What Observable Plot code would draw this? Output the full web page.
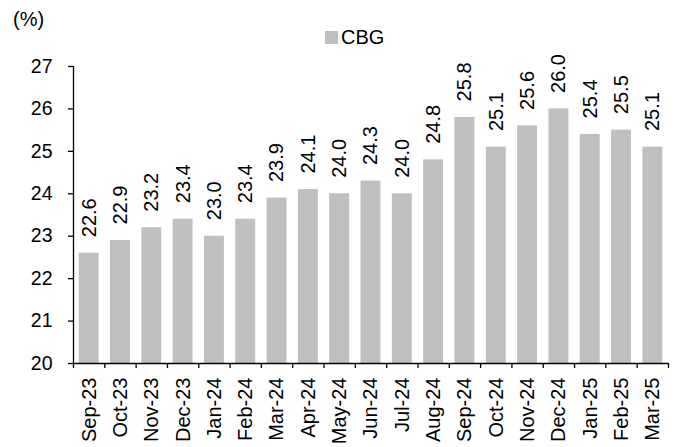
<!DOCTYPE html>
<html><head><meta charset="utf-8">
<script src="https://cdn.jsdelivr.net/npm/d3@7"></script>
<script src="https://cdn.jsdelivr.net/npm/@observablehq/plot@0.6"></script>
<style>
body{margin:0;background:#fff;font-family:"Liberation Sans",Arial,sans-serif;color:#000;}
#wrap{position:relative;width:680px;height:447px;}
.unit{position:absolute;left:13px;top:7px;font-size:20px;line-height:24px;}
.legend{position:absolute;left:325px;top:25px;font-size:20px;line-height:24px;display:flex;align-items:center;}
.sw{width:13px;height:13px;background:#BFBFBF;margin-right:3px;}
</style></head><body><div id="wrap"><div class="unit">(%)</div><div class="legend"><span class="sw"></span>CBG</div></div>
<script>
const months = ["Sep-23","Oct-23","Nov-23","Dec-23","Jan-24","Feb-24","Mar-24","Apr-24","May-24","Jun-24","Jul-24","Aug-24","Sep-24","Oct-24","Nov-24","Dec-24","Jan-25","Feb-25","Mar-25"];
const values = [22.6,22.9,23.2,23.4,23.0,23.4,23.9,24.1,24.0,24.3,24.0,24.8,25.8,25.1,25.6,26.0,25.4,25.5,25.1];
const yTicks = [20,21,22,23,24,25,26,27];

const data = months.map((m, i) => ({i, month: m, value: values[i]}));
const boundaries = d3.range(0, months.length + 1);
const centers = months.map((m, i) => i + 0.5);

const chart = Plot.plot({
  width: 680, height: 447,
  marginTop: 66, marginBottom: 84, marginLeft: 73, marginRight: 12,
  style: {fontFamily: '"Liberation Sans", Arial, sans-serif', fontSize: "20px", color: "#000", background: "transparent"},
  x: {type: "linear", domain: [0, months.length]},
  y: {domain: [20, 27]},
  marks: [
    Plot.rectY(data, {x1: "i", x2: d => d.i + 1, y1: 20, y2: "value", fill: "#BFBFBF", insetLeft: 5.7, insetRight: 5.7}),
    Plot.axisY({ticks: yTicks, tickSize: 5, tickPadding: 16, label: null, fontSize: 19.5, strokeWidth: 1.3, tickFormat: d => String(d)}),
    Plot.axisX({ticks: boundaries, tickSize: 5, tickFormat: () => "", label: null, strokeWidth: 1.3}),
    Plot.axisX({ticks: centers, tickSize: 0, tickPadding: 14, tickRotate: -90, label: null, fontSize: 20, tickFormat: d => months[Math.floor(d)]}),
    Plot.ruleX([0], {y1: 20, y2: 27, strokeWidth: 1.3}),
    Plot.ruleY([20], {strokeWidth: 1.3}),
    Plot.text(data, {x: d => d.i + 0.5, y: "value", text: d => d.value.toFixed(1), rotate: -90, textAnchor: "start", dy: -16, fontSize: 20})
  ]
});
chart.style.position = "absolute";
chart.style.left = "0";
chart.style.top = "0";
document.getElementById("wrap").prepend(chart);
</script>
</body></html>
